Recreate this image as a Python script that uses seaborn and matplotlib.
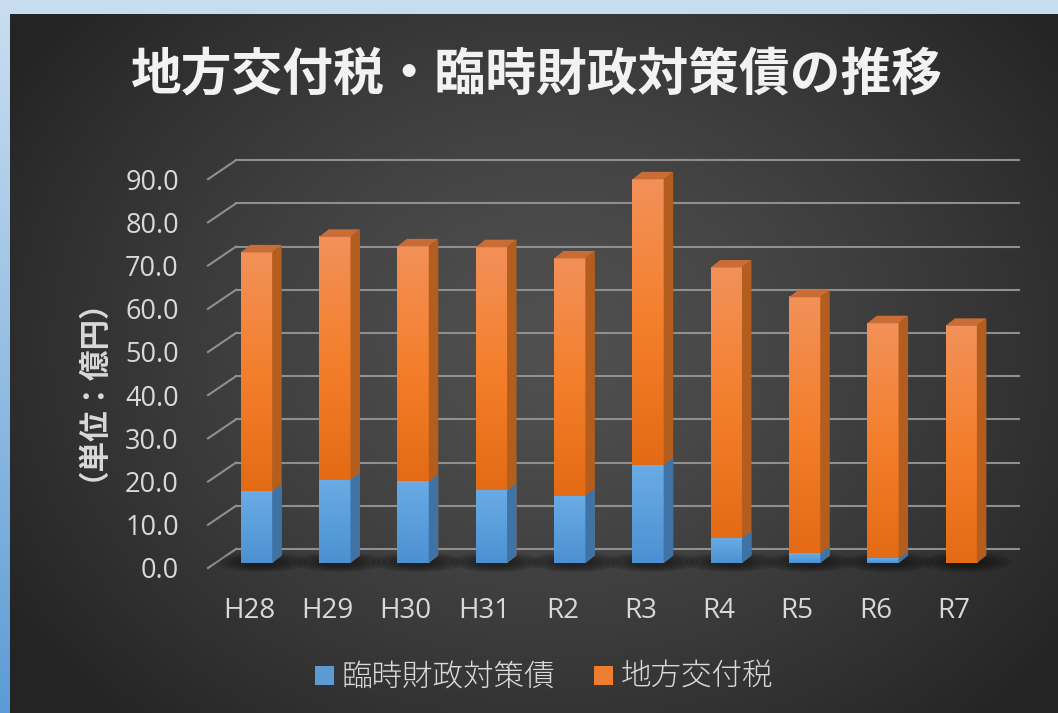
import numpy as np
import pandas as pd
import seaborn as sns
import matplotlib.pyplot as plt
from matplotlib.patches import Polygon, Patch, Ellipse
from matplotlib.transforms import ScaledTranslation
from matplotlib.colors import LinearSegmentedColormap

# data (億円)
years = ['H28', 'H29', 'H30', 'H31', 'R2', 'R3', 'R4', 'R5', 'R6', 'R7']
rinzai = [16.5, 19.2, 18.8, 16.7, 15.5, 22.6, 5.6, 2.2, 1.0, 0.0]
kofu = [55.4, 56.3, 54.5, 56.4, 55.0, 66.2, 62.8, 59.3, 54.5, 54.9]
yticks = np.arange(0, 91, 10)

title = '地方交付税・臨時財政対策債の推移'
ylabel = '（単位：億円）'
lab_rinzai = '臨時財政対策債'
lab_kofu = '地方交付税'

df = pd.DataFrame({'year': years, lab_rinzai: rinzai, lab_kofu: kofu})
df['total'] = df[lab_rinzai] + df[lab_kofu]

ORANGE = '#ed7d31'
BLUE = '#5b9bd5'
TXT = '#d9d9d9'

plt.rcParams['font.family'] = ['Noto Sans CJK JP', 'DejaVu Sans']

W, H = 1058, 713
fig = plt.figure(figsize=(W / 100, H / 100), dpi=100)

# light blue slide border
bg = fig.add_axes([0, 0, 1, 1], zorder=0)
t = np.linspace(0, 1, H)[:, None, None]
top_c = np.array([200, 221, 240]) / 255
bot_c = np.array([91, 155, 213]) / 255
bg.imshow(top_c + (bot_c - top_c) * t ** 1.1 * np.ones((1, 4, 1)), extent=[0, 1, 0, 1], aspect='auto')
bg.axis('off')

# dark radial panel
pw, ph = W - 10, H - 14
panel = fig.add_axes([10 / W, 0, pw / W, ph / H], zorder=1)
yy, xx = np.mgrid[0:ph:2, 0:pw:2]
r = np.sqrt(((xx - 540) / 640.0) ** 2 + ((yy - 330) / 520.0) ** 2)
r = np.clip(r, 0, 1) ** 1.3
shade = (80 + (36 - 80) * r) / 255
panel.imshow(np.dstack([shade] * 3), extent=[0, 1, 0, 1], aspect='auto')
panel.axis('off')

# main axes = plane of the bar fronts
y0_px, y90_px = 563, 174.2
ax = fig.add_axes([215.4 / W, (H - y0_px) / H, 783 / W, (y0_px - y90_px) / H], zorder=2)
ax.patch.set_visible(False)

sns.barplot(data=df, x='year', y='total', color=ORANGE, width=0.4, saturation=1,
            ax=ax, zorder=3, linewidth=0)
n_or = len(ax.patches)
sns.barplot(data=df, x='year', y=lab_rinzai, color=BLUE, width=0.4, saturation=1,
            ax=ax, zorder=5, linewidth=0)
or_bars = ax.patches[:n_or]
bl_bars = ax.patches[n_or:]

px_x = 78.3      # px per category
px_y = 4.32      # px per unit
ddx, ddy = 9.5 / px_x, 7.5 / px_y   # bar depth

or_cmap = LinearSegmentedColormap.from_list('o', ['#f2915a', '#f47f2c', '#e46b14'])
bl_cmap = LinearSegmentedColormap.from_list('b', ['#6aabe4', '#5a9fdc', '#4c90d2'])
grad = np.linspace(0, 1, 256)[:, None]

for ob, bb in zip(or_bars, bl_bars):
    x0, w = ob.get_x(), ob.get_width()
    tot, low = ob.get_height(), bb.get_height()
    # floor shadow
    for k in range(6):
        ax.add_patch(Ellipse((x0 + w / 2 + ddx / 2, 0.2), w * (1.2 + 0.35 * k), 2.2 + 0.5 * k,
                             color='black', alpha=0.09, lw=0, zorder=2.5, clip_on=False))
    # orange front gradient
    ax.imshow(grad, extent=(x0, x0 + w, low, tot), aspect='auto', cmap=or_cmap,
              zorder=3.1, clip_on=False)
    # side + top faces
    ax.add_patch(Polygon([(x0 + w, 0), (x0 + w + ddx, ddy), (x0 + w + ddx, tot + ddy), (x0 + w, tot)],
                         closed=True, fc='#b35d1f', lw=0, zorder=3.2, clip_on=False))
    ax.add_patch(Polygon([(x0, tot), (x0 + ddx, tot + ddy), (x0 + w + ddx, tot + ddy), (x0 + w, tot)],
                         closed=True, fc='#c96c35', lw=0, zorder=3.2, clip_on=False))
    if low > 0:
        ax.imshow(grad, extent=(x0, x0 + w, 0, low), aspect='auto', cmap=bl_cmap,
                  zorder=5.1, clip_on=False)
        ax.add_patch(Polygon([(x0 + w, 0), (x0 + w + ddx, ddy), (x0 + w + ddx, low + ddy), (x0 + w, low)],
                             closed=True, fc='#3f73a6', lw=0, zorder=5.2, clip_on=False))

xl, xr = -0.525, 9.475
ax.set_xlim(xl, xr)
ax.set_ylim(0, 90)

# gridlines on the back wall, with the slanted side-wall ticks
fs = ScaledTranslation(-7.4 / 100, -5 / 100, fig.dpi_scale_trans)
bs = ScaledTranslation(20.6 / 100, 14 / 100, fig.dpi_scale_trans)
for v in yticks:
    ax.plot([xl, xr], [v, v], color='#8f8f8f', lw=1.5, zorder=1, clip_on=False,
            transform=ax.transData + bs)
    p_front = (ax.transData + fs).transform((xl, v))
    p_back = (ax.transData + bs).transform((xl, v))
    ax.plot([p_front[0], p_back[0]], [p_front[1], p_back[1]], color='#8f8f8f', lw=1.5,
            zorder=1, clip_on=False, transform=None)

for s in ax.spines.values():
    s.set_visible(False)
ax.set_xlabel('')
ax.set_ylabel('')
ax.set_yticks(yticks)
ax.set_yticklabels([f'{v:.1f}' for v in yticks])
ax.tick_params(length=0, colors=TXT)
ax.tick_params(axis='y', pad=21, labelsize=19.5)
ax.tick_params(axis='x', pad=21, labelsize=20)
for lbl in ax.get_yticklabels() + ax.get_xticklabels():
    lbl.set_family(['Open Sans', 'DejaVu Sans'])
    lbl.set_transform(lbl.get_transform() + fs)

fig.text(537 / W, 1 - 75 / H, title, ha='center', va='center', fontsize=36.5,
         fontweight='bold', color='#f2f2f2')
fig.text(77 / W, 1 - 374 / H, ylabel, ha='center', va='center', rotation=90,
         fontsize=22, fontweight='bold', color=TXT)

handles = [Patch(facecolor=BLUE, label=lab_rinzai), Patch(facecolor=ORANGE, label=lab_kofu)]
fig.legend(handles=handles, loc='center', bbox_to_anchor=(544 / W, 1 - 677 / H), ncol=2,
           frameon=False, fontsize=22, labelcolor=TXT, handlelength=0.6, handleheight=0.6,
           handletextpad=0.25, columnspacing=1.3, prop={'weight': 'light', 'size': 22})

fig.savefig('out.png', dpi=100)
